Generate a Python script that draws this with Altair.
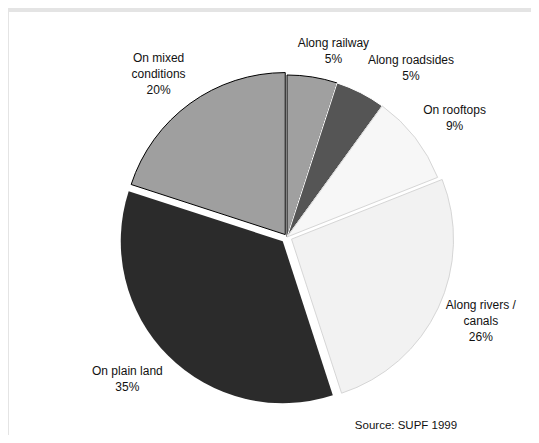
import math
import altair as alt
import pandas as pd

# ---- data ----
categories = ["Along railway", "Along roadsides", "On rooftops",
              "Along rivers / canals", "On plain land", "On mixed conditions"]
label_lines = ["Along railway", "Along roadsides", "On rooftops",
               "Along rivers /\ncanals", "On plain land", "On mixed\nconditions"]
percent = [5, 5, 9, 26, 35, 20]
source_note = "Source: SUPF 1999"

# ---- styling / layout ----
fills = ["#a0a0a0", "#555555", "#f7f7f7", "#f2f2f2", "#2b2b2b", "#9f9f9f"]
strokes = ["#000000", "#ffffff", "#d6d6d6", "#d6d6d6", "#2b2b2b", "#000000"]
stroke_w = [1, 1, 1, 1, 0, 1]
explode = [0, 0, 0, 5, 6, 3]          # pixels
label_dx = [14, 30, 4, 2, -9, -5]     # label nudges (pixels)
label_dy = [19, 16, 9, -5, -8, 8]

W, H = 522, 423
CX, CY = 278, 225        # pie centre in plot coordinates
R = 162
LABEL_R = 207
LINE_H = 16

total = sum(percent)
rows = []
acc = 0.0
for i, c in enumerate(categories):
    start = acc / total * 2 * math.pi
    acc += percent[i]
    end = acc / total * 2 * math.pi
    mid = (start + end) / 2
    cx = CX + explode[i] * math.sin(mid)
    cy = CY - explode[i] * math.cos(mid)
    text = f"{label_lines[i]}\n{percent[i]}%"
    n_lines = text.count("\n") + 1
    block_cy = cy - LABEL_R * math.cos(mid) + label_dy[i]
    rows.append(dict(
        category=c,
        label=text,
        start=start, end=end,
        cx=cx, cy=cy,
        lx=cx + LABEL_R * math.sin(mid) + label_dx[i],
        ly=block_cy - (n_lines - 1) * LINE_H / 2 - 1,
        fill=fills[i], stroke=strokes[i], sw=stroke_w[i],
    ))
df = pd.DataFrame(rows)

base = alt.Chart(df)

slices = base.mark_arc(radius=R).encode(
    x=alt.X("cx:Q", scale=None, axis=None),
    y=alt.Y("cy:Q", scale=None, axis=None),
    theta=alt.Theta("start:Q", scale=None),
    theta2="end:Q",
    color=alt.Color("fill:N", scale=None),
    stroke=alt.Stroke("stroke:N", scale=None),
    strokeWidth=alt.StrokeWidth("sw:Q", scale=None),
)

labels = base.mark_text(
    lineBreak="\n", font="Liberation Sans", fontSize=12, lineHeight=LINE_H,
    align="center", baseline="middle", color="#111111",
).encode(
    x=alt.X("lx:Q", scale=None, axis=None),
    y=alt.Y("ly:Q", scale=None, axis=None),
    text="label:N",
)

note = alt.Chart(pd.DataFrame({"t": [source_note]})).mark_text(
    font="Liberation Sans", fontSize=11.5, align="center", baseline="middle",
    color="#111111",
).encode(
    x=alt.value(397), y=alt.value(414), text="t:N",
)

chart = alt.layer(slices, labels, note).properties(
    width=W, height=H,
    background="#e4e4e4",
    padding={"left": 1, "top": 4, "right": 0, "bottom": 0},
    autosize=alt.AutoSizeParams(type="none"),
).configure_view(fill="#ffffff", stroke=None)

chart.save("out.html", embed_options={"renderer": "svg", "actions": False})
